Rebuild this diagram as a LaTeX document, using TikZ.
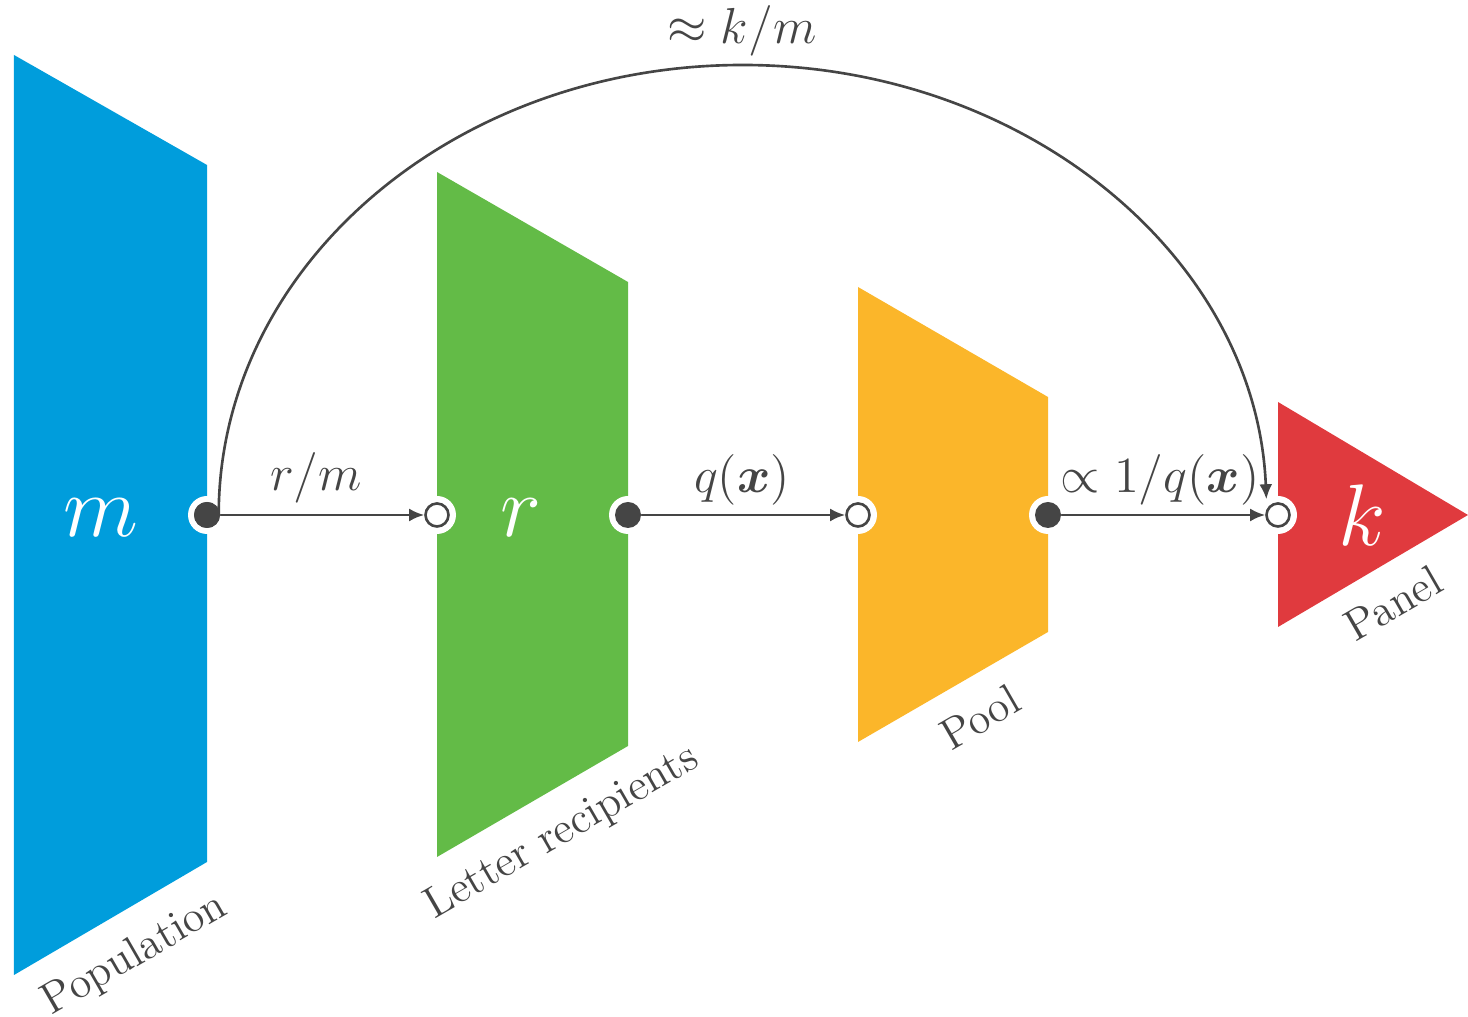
\documentclass[tikz,border=0pt]{standalone}
\usepackage{amsmath}
\usetikzlibrary{arrows.meta}
\definecolor{popblue}{HTML}{009DDC}
\definecolor{letgreen}{HTML}{63BB47}
\definecolor{poolorange}{HTML}{FBB62A}
\definecolor{panelred}{HTML}{E03A3E}
\definecolor{inkgray}{HTML}{454545}
\begin{document}
\begin{tikzpicture}[line cap=round,line join=round,
  halo/.style={circle,fill=white,inner sep=0pt,minimum size=0.38cm},
  dotfull/.style={circle,fill=inkgray,inner sep=0pt,minimum size=0.26cm},
  dotopen/.style={circle,draw=inkgray,fill=white,line width=0.75pt,inner sep=0pt,minimum size=0.23cm},
  flow/.style={-{Latex[length=0.15cm,width=0.13cm]},draw=inkgray,line width=0.75pt},
  tag/.style={text=inkgray,font=\fontsize{12.5}{14}\selectfont,rotate=30},
  big/.style={text=white,font=\fontsize{25}{29}\selectfont},
  rate/.style={text=inkgray,font=\fontsize{13.5}{16}\selectfont}]
  \useasboundingbox (0,0) rectangle (14.68,-10.17);
  % stages
  \fill[popblue] (0.14,-0.55) -- (2.07,-1.65) -- (2.07,-8.62) -- (0.14,-9.75) -- cycle;
  \fill[letgreen] (4.37,-1.72) -- (6.28,-2.82) -- (6.28,-7.46) -- (4.37,-8.57) -- cycle;
  \fill[poolorange] (8.58,-2.87) -- (10.48,-3.97) -- (10.48,-6.32) -- (8.58,-7.42) -- cycle;
  \fill[panelred] (12.78,-4.02) -- (14.68,-5.15) -- (12.78,-6.27) -- cycle;
  \node[big] (msym) at (1.01,-5.18) {$m$};
  \node[big] (rsym) at (5.21,-5.18) {$r$};
  \node[big] (ksym) at (13.62,-5.15) {$k$};
  % white rings
  \node[halo] at (2.07,-5.15) {};
  \node[halo] at (4.37,-5.15) {};
  \node[halo] at (6.28,-5.15) {};
  \node[halo] at (8.58,-5.15) {};
  \node[halo] at (10.48,-5.15) {};
  \node[halo] at (12.78,-5.15) {};
  % ports
  \node[dotfull] (pop) at (2.07,-5.15) {};
  \node[dotopen] (letin) at (4.37,-5.15) {};
  \node[dotfull] (letout) at (6.28,-5.15) {};
  \node[dotopen] (poolin) at (8.58,-5.15) {};
  \node[dotfull] (poolout) at (10.48,-5.15) {};
  \node[dotopen] (panel) at (12.78,-5.15) {};
  \draw[flow] (pop) -- (letin);
  \draw[flow] (letout) -- (poolin);
  \draw[flow] (poolout) -- (panel);
  \draw[flow] (pop.east) ++(-0.02,0) arc[start angle=180, end angle=2, x radius=5.24, y radius=4.5];
  \node[dotfull] at (pop) {};
  \node[rate] (rm) at (3.16,-4.78) {$r/m$};
  \node[rate] (qx) at (7.42,-4.80) {$q(\boldsymbol{x})$};
  \node[rate] (invq) at (11.60,-4.80) {$\propto 1/q(\boldsymbol{x})$};
  \node[rate] (km) at (7.42,-0.31) {$\approx k/m$};
  % names
  \node[tag] (poplab) at (1.35,-9.55) {Population};
  \node[tag] (letlab) at (5.62,-8.33) {Letter recipients};
  \node[tag] (poollab) at (9.80,-7.17) {Pool};
  \node[tag] (panellab) at (13.93,-6.03) {Panel};
\end{tikzpicture}
\end{document}
